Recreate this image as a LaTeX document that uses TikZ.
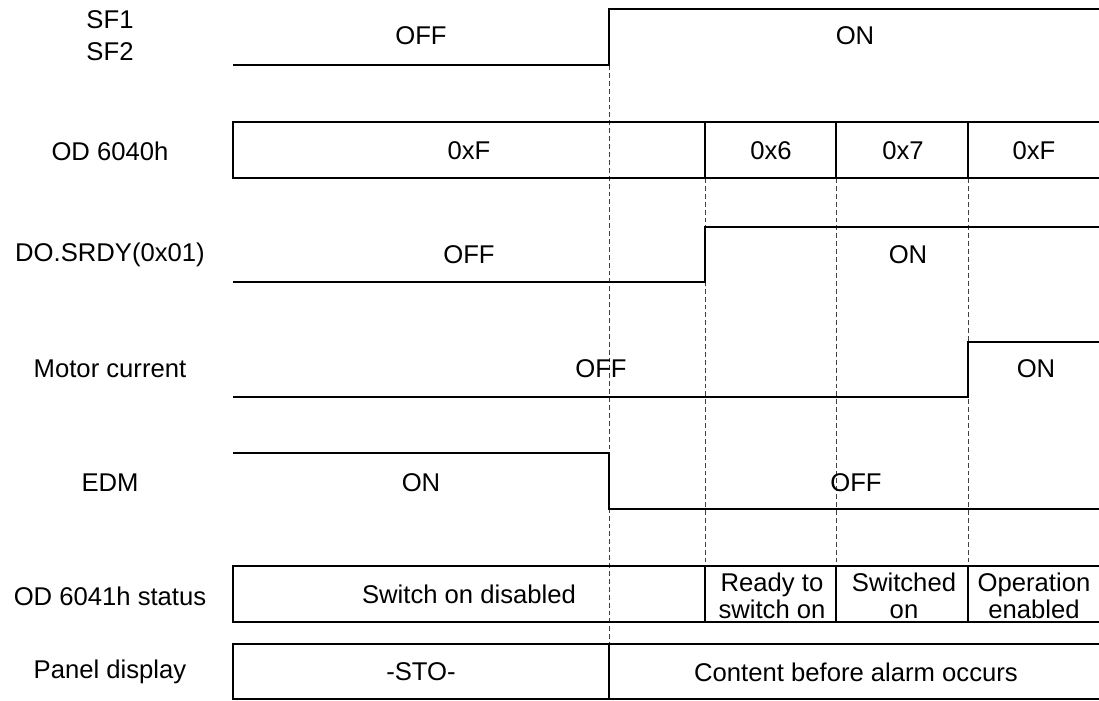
\documentclass[tikz,border=0pt]{standalone}
\usepackage{fontspec}
\setmainfont{Liberation Sans}
\tikzset{
  sig/.style   = {line width=0.7pt},
  bus/.style   = {line width=0.8pt},
  guide/.style = {line width=0.45pt, black!75, dash pattern=on 2.8pt off 1.7pt},
  lab/.style   = {font=\fontsize{14.6}{15.6}\selectfont, align=center, inner sep=0pt},
}

\begin{document}
\begin{tikzpicture}[x=0.02cm, y=-0.02cm]
  \useasboundingbox (0,0) rectangle (1099,700);

  % dashed time marks
  \draw[guide] (609,65) -- (609,644);
  \foreach \t in {705,836,968}
    \draw[guide] (\t,178) -- (\t,566);

  % row names
  \node[lab] (lsf)    at (110,36)  {SF1\\[2.5pt]SF2};
  \node[lab] (l6040)  at (110,151) {OD 6040h};
  \node[lab] (lsrdy)  at (110,255) {DO.SRDY(0x01)};
  \node[lab] (lmot)   at (110,369) {Motor current};
  \node[lab] (ledm)   at (110,483) {EDM};
  \node[lab] (l6041)  at (110,596) {OD 6041h status};
  \node[lab] (lpanel) at (110,672) {Panel display};

  % SF1 / SF2
  \draw[sig] (233,65) -- (609,65) -- (609,9) -- (1099,9);
  \node[lab] (sfoff) at (421,36) {OFF};
  \node[lab] (sfon)  at (855,36) {ON};

  % OD 6040h
  \draw[bus] (1099,122) -| (233,178) -- (1099,178);
  \foreach \t in {705,836,968}
    \draw[bus] (\t,122) -- (\t,178);
  \node[lab] (cw0) at (469,151)  {0xF};
  \node[lab] (cw1) at (771,151)  {0x6};
  \node[lab] (cw2) at (903,151)  {0x7};
  \node[lab] (cw3) at (1034,151) {0xF};

  % DO.SRDY
  \draw[sig] (233,282) -- (705,282) -- (705,227) -- (1099,227);
  \node[lab] (srdyoff) at (469,255) {OFF};
  \node[lab] (srdyon)  at (908,255) {ON};

  % motor current
  \draw[sig] (233,397) -- (968,397) -- (968,342) -- (1099,342);
  \node[lab] (motoff) at (601,369)  {OFF};
  \node[lab] (moton)  at (1036,369) {ON};

  % EDM
  \draw[sig] (233,453) -- (609,453) -- (609,509) -- (1099,509);
  \node[lab] (edmon)  at (421,483) {ON};
  \node[lab] (edmoff) at (856,483) {OFF};

  % OD 6041h status
  \draw[bus] (1099,566) -| (233,622) -- (1099,622);
  \foreach \t in {705,836,968}
    \draw[bus] (\t,566) -- (\t,622);
  \node[lab] (sw0) at (469,594)  {Switch on disabled};
  \node[lab] (sw1) at (772,596)  {Ready to\\switch on};
  \node[lab] (sw2) at (904,596)  {Switched\\on};
  \node[lab] (sw3) at (1034,596) {Operation\\enabled};

  % panel display
  \draw[bus] (1099,644) -| (233,699) -- (1099,699);
  \draw[bus] (609,644) -- (609,699);
  \node[lab] (psto) at (421,672) {-STO-};
  \node[lab] (pold) at (856,672) {Content before alarm occurs};

\end{tikzpicture}
\end{document}
